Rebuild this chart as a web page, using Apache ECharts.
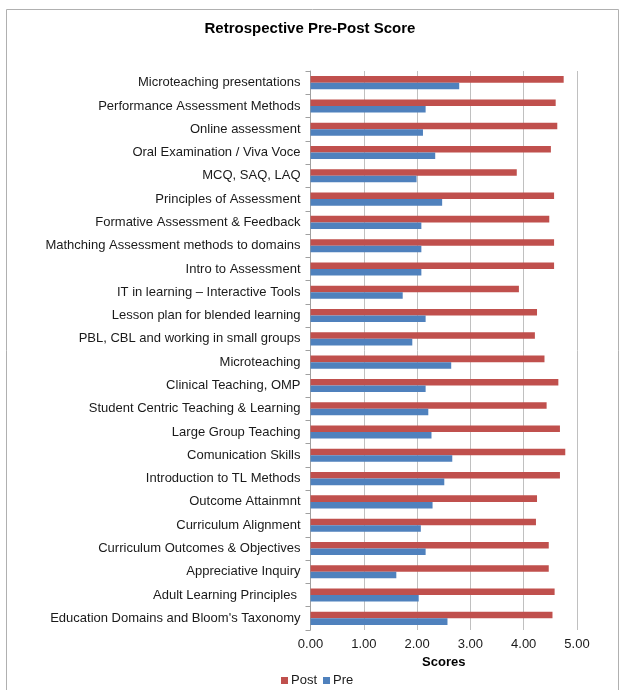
<!DOCTYPE html>
<html><head><meta charset="utf-8">
<script src="https://cdn.jsdelivr.net/npm/echarts@6/dist/echarts.min.js"></script>
<style>html,body{margin:0;padding:0;background:#fff}#c{width:620px;height:690px}</style>
</head><body><div id="c"></div>
<script>
var categories = [
  "Microteaching presentations",
  "Performance Assessment Methods",
  "Online assessment",
  "Oral Examination / Viva Voce",
  "MCQ, SAQ, LAQ",
  "Principles of Assessment",
  "Formative Assessment & Feedback",
  "Mathching Assessment methods to domains",
  "Intro to Assessment",
  "IT in learning \u2013 Interactive Tools",
  "Lesson plan for blended learning",
  "PBL, CBL and working in small groups",
  "Microteaching",
  "Clinical Teaching, OMP",
  "Student Centric Teaching & Learning",
  "Large Group Teaching",
  "Comunication Skills",
  "Introduction to TL Methods",
  "Outcome Attainmnt",
  "Curriculum Alignment",
  "Curriculum Outcomes & Objectives",
  "Appreciative Inquiry",
  "Adult Learning Principles ",
  "Education Domains and Bloom's Taxonomy"
];
var postValues = [4.75, 4.60, 4.63, 4.51, 3.87, 4.57, 4.48, 4.57, 4.57, 3.91, 4.25, 4.21, 4.39, 4.65, 4.43, 4.68, 4.78, 4.68, 4.25, 4.23, 4.47, 4.47, 4.58, 4.54];
var preValues  = [2.79, 2.16, 2.11, 2.34, 1.99, 2.47, 2.08, 2.08, 2.08, 1.73, 2.16, 1.91, 2.64, 2.16, 2.21, 2.27, 2.66, 2.51, 2.29, 2.07, 2.16, 1.61, 2.03, 2.57];
var xTicks = [0, 1, 2, 3, 4, 5];

var chart = echarts.init(document.getElementById('c'));
var font = 'Liberation Sans, Arial, sans-serif';
chart.setOption({
  backgroundColor: '#fff',
  animation: false,
  textStyle: {fontFamily: font},
  graphic: [{
    type: 'rect', left: 4, top: 7, silent: true,
    shape: {width: 612, height: 700},
    style: {fill: 'none', stroke: '#b0b0b0', lineWidth: 1}
  }],
  title: {
    text: 'Retrospective Pre-Post Score',
    left: 'center', top: 16,
    textStyle: {fontFamily: font, fontSize: 15, fontWeight: 'bold', color: '#000'}
  },
  legend: {
    data: ['Post', 'Pre'],
    left: 276, top: 669,
    itemWidth: 7, itemHeight: 7, itemGap: 6,
    icon: 'rect',
    textStyle: {fontFamily: font, fontSize: 13, color: '#1a1a1a', padding: [0, 0, 0, -2]}
  },
  grid: {left: 310.5, right: 43, top: 71, bottom: 60, containLabel: false},
  xAxis: {
    type: 'value', min: 0, max: 5, interval: 1,
    name: 'Scores', nameLocation: 'middle', nameGap: 25,
    nameTextStyle: {fontFamily: font, fontSize: 13, fontWeight: 'bold', color: '#000'},
    axisLine: {show: false},
    axisTick: {show: false},
    axisLabel: {fontFamily: font, fontSize: 13, color: '#1a1a1a', margin: 8,
      formatter: function (v) { return xTicks.indexOf(v) >= 0 ? v.toFixed(2) : ''; }},
    splitLine: {show: true, lineStyle: {color: '#c0c0c0', width: 1}}
  },
  yAxis: {
    type: 'category', data: categories, inverse: true,
    axisLine: {show: true, lineStyle: {color: '#a0a0a0'}},
    axisTick: {show: true, length: 5, lineStyle: {color: '#a0a0a0'}},
    axisLabel: {fontFamily: font, fontSize: 13, color: '#1a1a1a', margin: 10}
  },
  series: [
    {name: 'Post', type: 'bar', data: postValues, barGap: '0%', barCategoryGap: '44%',
     itemStyle: {color: '#C0504D'}},
    {name: 'Pre', type: 'bar', data: preValues, barGap: '0%', barCategoryGap: '44%',
     itemStyle: {color: '#4F81BD'}}
  ]
});
</script></body></html>
